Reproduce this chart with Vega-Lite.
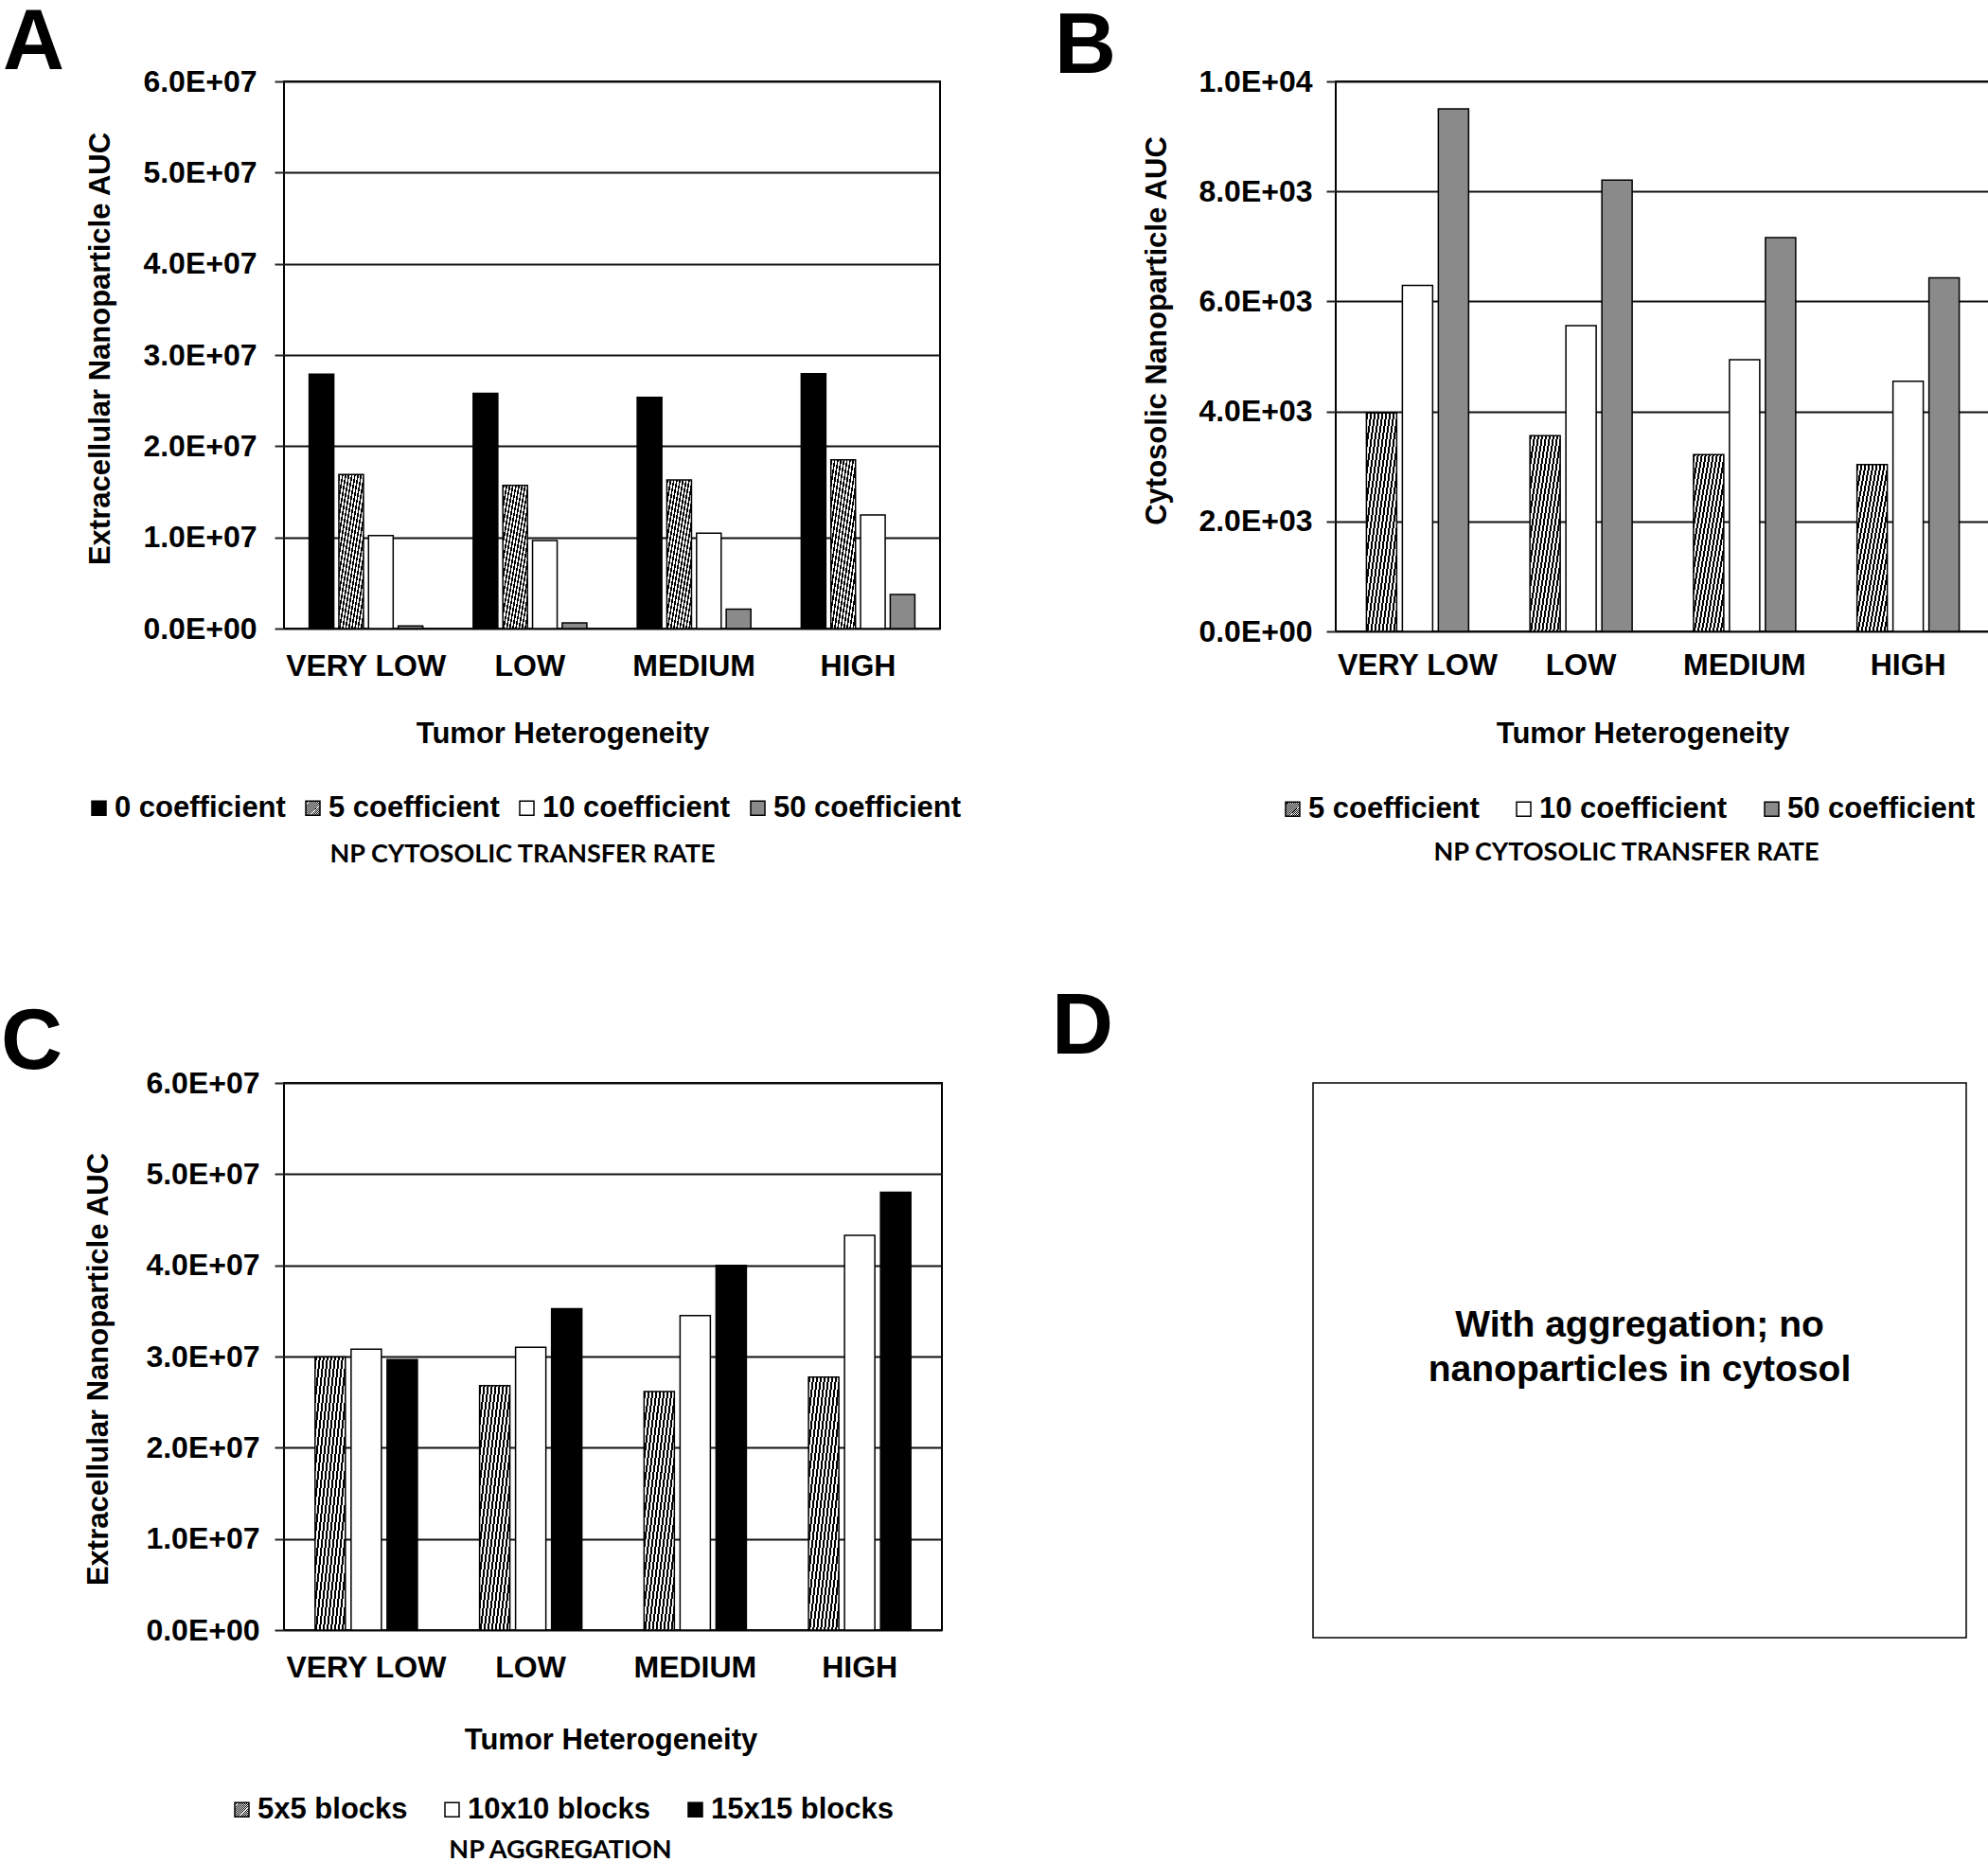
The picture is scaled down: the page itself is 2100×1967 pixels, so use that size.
{
  "$schema": "https://vega.github.io/schema/vega-lite/v6.json",
  "padding": 0,
  "background": "white",
  "params": [
    {"name": "hatch", "expr": "{gradient:'linear',x1:0,y1:0,x2:1,y2:1,stops:[{offset:0,color:'#000'},{offset:0.03125,color:'#000'},{offset:0.03125,color:'#fff'},{offset:0.0625,color:'#fff'},{offset:0.0625,color:'#000'},{offset:0.09375,color:'#000'},{offset:0.09375,color:'#fff'},{offset:0.125,color:'#fff'},{offset:0.125,color:'#000'},{offset:0.15625,color:'#000'},{offset:0.15625,color:'#fff'},{offset:0.1875,color:'#fff'},{offset:0.1875,color:'#000'},{offset:0.21875,color:'#000'},{offset:0.21875,color:'#fff'},{offset:0.25,color:'#fff'},{offset:0.25,color:'#000'},{offset:0.28125,color:'#000'},{offset:0.28125,color:'#fff'},{offset:0.3125,color:'#fff'},{offset:0.3125,color:'#000'},{offset:0.34375,color:'#000'},{offset:0.34375,color:'#fff'},{offset:0.375,color:'#fff'},{offset:0.375,color:'#000'},{offset:0.40625,color:'#000'},{offset:0.40625,color:'#fff'},{offset:0.4375,color:'#fff'},{offset:0.4375,color:'#000'},{offset:0.46875,color:'#000'},{offset:0.46875,color:'#fff'},{offset:0.5,color:'#fff'},{offset:0.5,color:'#000'},{offset:0.53125,color:'#000'},{offset:0.53125,color:'#fff'},{offset:0.5625,color:'#fff'},{offset:0.5625,color:'#000'},{offset:0.59375,color:'#000'},{offset:0.59375,color:'#fff'},{offset:0.625,color:'#fff'},{offset:0.625,color:'#000'},{offset:0.65625,color:'#000'},{offset:0.65625,color:'#fff'},{offset:0.6875,color:'#fff'},{offset:0.6875,color:'#000'},{offset:0.71875,color:'#000'},{offset:0.71875,color:'#fff'},{offset:0.75,color:'#fff'},{offset:0.75,color:'#000'},{offset:0.78125,color:'#000'},{offset:0.78125,color:'#fff'},{offset:0.8125,color:'#fff'},{offset:0.8125,color:'#000'},{offset:0.84375,color:'#000'},{offset:0.84375,color:'#fff'},{offset:0.875,color:'#fff'},{offset:0.875,color:'#000'},{offset:0.90625,color:'#000'},{offset:0.90625,color:'#fff'},{offset:0.9375,color:'#fff'},{offset:0.9375,color:'#000'},{offset:0.96875,color:'#000'},{offset:0.96875,color:'#fff'},{offset:1,color:'#fff'}]}"}
  ],
  "datasets": {
    "panelA": [
      {"heterogeneity": "VERY LOW", "rate": "0 coefficient", "auc": 27900000},
      {"heterogeneity": "VERY LOW", "rate": "5 coefficient", "auc": 16900000},
      {"heterogeneity": "VERY LOW", "rate": "10 coefficient", "auc": 10200000},
      {"heterogeneity": "VERY LOW", "rate": "50 coefficient", "auc": 280000},
      {"heterogeneity": "LOW", "rate": "0 coefficient", "auc": 25800000},
      {"heterogeneity": "LOW", "rate": "5 coefficient", "auc": 15700000},
      {"heterogeneity": "LOW", "rate": "10 coefficient", "auc": 9650000},
      {"heterogeneity": "LOW", "rate": "50 coefficient", "auc": 620000},
      {"heterogeneity": "MEDIUM", "rate": "0 coefficient", "auc": 25350000},
      {"heterogeneity": "MEDIUM", "rate": "5 coefficient", "auc": 16300000},
      {"heterogeneity": "MEDIUM", "rate": "10 coefficient", "auc": 10450000},
      {"heterogeneity": "MEDIUM", "rate": "50 coefficient", "auc": 2130000},
      {"heterogeneity": "HIGH", "rate": "0 coefficient", "auc": 27950000},
      {"heterogeneity": "HIGH", "rate": "5 coefficient", "auc": 18500000},
      {"heterogeneity": "HIGH", "rate": "10 coefficient", "auc": 12450000},
      {"heterogeneity": "HIGH", "rate": "50 coefficient", "auc": 3730000}
    ],
    "panelB": [
      {"heterogeneity": "VERY LOW", "rate": "5 coefficient", "auc": 3970},
      {"heterogeneity": "VERY LOW", "rate": "10 coefficient", "auc": 6290},
      {"heterogeneity": "VERY LOW", "rate": "50 coefficient", "auc": 9500},
      {"heterogeneity": "LOW", "rate": "5 coefficient", "auc": 3560},
      {"heterogeneity": "LOW", "rate": "10 coefficient", "auc": 5560},
      {"heterogeneity": "LOW", "rate": "50 coefficient", "auc": 8205},
      {"heterogeneity": "MEDIUM", "rate": "5 coefficient", "auc": 3215},
      {"heterogeneity": "MEDIUM", "rate": "10 coefficient", "auc": 4940},
      {"heterogeneity": "MEDIUM", "rate": "50 coefficient", "auc": 7160},
      {"heterogeneity": "HIGH", "rate": "5 coefficient", "auc": 3035},
      {"heterogeneity": "HIGH", "rate": "10 coefficient", "auc": 4550},
      {"heterogeneity": "HIGH", "rate": "50 coefficient", "auc": 6430}
    ],
    "panelC": [
      {"heterogeneity": "VERY LOW", "aggregation": "5x5 blocks", "auc": 29950000},
      {"heterogeneity": "VERY LOW", "aggregation": "10x10 blocks", "auc": 30800000},
      {"heterogeneity": "VERY LOW", "aggregation": "15x15 blocks", "auc": 29650000},
      {"heterogeneity": "LOW", "aggregation": "5x5 blocks", "auc": 26800000},
      {"heterogeneity": "LOW", "aggregation": "10x10 blocks", "auc": 31000000},
      {"heterogeneity": "LOW", "aggregation": "15x15 blocks", "auc": 35250000},
      {"heterogeneity": "MEDIUM", "aggregation": "5x5 blocks", "auc": 26150000},
      {"heterogeneity": "MEDIUM", "aggregation": "10x10 blocks", "auc": 34500000},
      {"heterogeneity": "MEDIUM", "aggregation": "15x15 blocks", "auc": 40000000},
      {"heterogeneity": "HIGH", "aggregation": "5x5 blocks", "auc": 27750000},
      {"heterogeneity": "HIGH", "aggregation": "10x10 blocks", "auc": 43300000},
      {"heterogeneity": "HIGH", "aggregation": "15x15 blocks", "auc": 48000000}
    ],
    "panelD": [
      {"note": "With aggregation; no\nnanoparticles in cytosol"}
    ]
  },
  "vconcat": [
    {
      "hconcat": [
        {
          "width": 693,
          "height": 578,
          "data": {"name": "panelA"},
          "title": {"text": "A", "dx": -297, "offset": -22},
          "mark": {"type": "bar", "stroke": "black", "strokeWidth": 1.5},
          "encoding": {
            "x": {"field": "heterogeneity", "type": "nominal", "sort": ["VERY LOW", "LOW", "MEDIUM", "HIGH"], "scale": {"paddingInner": 0.307, "paddingOuter": 0.1535}, "axis": {"title": "Tumor Heterogeneity", "titleX": 294, "titleY": 120}},
            "xOffset": {"field": "rate", "type": "nominal", "sort": ["0 coefficient", "5 coefficient", "10 coefficient", "50 coefficient"], "scale": {"paddingInner": 0.17, "paddingOuter": 0}},
            "y": {"field": "auc", "type": "quantitative", "scale": {"domain": [0, 60000000], "nice": false}, "axis": {"title": "Extracellular Nanoparticle AUC", "values": [0, 10000000, 20000000, 30000000, 40000000, 50000000, 60000000], "labelExpr": "replace(format(datum.value, '.1e'), 'e+', 'E+0')", "labelPadding": 19, "titleX": -185, "titleY": 282}},
            "fill": {"field": "rate", "type": "nominal", "scale": {"domain": ["0 coefficient", "5 coefficient", "10 coefficient", "50 coefficient"], "range": ["#000000", {"expr": "hatch"}, "#ffffff", "#8a8a8a"]}, "legend": {"title": "NP CYTOSOLIC TRANSFER RATE", "legendX": -211, "legendY": 752, "columnPadding": 13, "titlePadding": 21}}
          }
        },
        {
          "width": 691,
          "height": 581,
          "data": {"name": "panelB"},
          "title": {"text": "B", "dx": -297, "offset": -26},
          "mark": {"type": "bar", "stroke": "black", "strokeWidth": 1.5},
          "encoding": {
            "x": {"field": "heterogeneity", "type": "nominal", "sort": ["VERY LOW", "LOW", "MEDIUM", "HIGH"], "scale": {"paddingInner": 0.375, "paddingOuter": 0.1875}, "axis": {"title": "Tumor Heterogeneity", "titleX": 324, "titleY": 117, "labelPadding": 20}},
            "xOffset": {"field": "rate", "type": "nominal", "sort": ["5 coefficient", "10 coefficient", "50 coefficient"], "scale": {"paddingInner": 0.158, "paddingOuter": 0}},
            "y": {"field": "auc", "type": "quantitative", "scale": {"domain": [0, 10000], "nice": false}, "axis": {"title": "Cytosolic Nanoparticle AUC", "values": [0, 2000, 4000, 6000, 8000, 10000], "labelExpr": "replace(format(datum.value, '.1e'), 'e+', 'E+0')", "labelPadding": 15, "titleX": -180, "titleY": 263}},
            "fill": {"field": "rate", "type": "nominal", "scale": {"domain": ["5 coefficient", "10 coefficient", "50 coefficient"], "range": [{"expr": "hatch"}, "#ffffff", "#8a8a8a"]}, "legend": {"title": "NP CYTOSOLIC TRANSFER RATE", "legendX": -61, "legendY": 753, "columnPadding": 31}}
          }
        }
      ],
      "spacing": 96,
      "resolve": {"scale": {"x": "independent", "y": "independent", "xOffset": "independent", "fill": "independent"}, "axis": {"x": "independent", "y": "independent"}, "legend": {"fill": "independent"}}
    },
    {
      "hconcat": [
        {
          "width": 695,
          "height": 578,
          "data": {"name": "panelC"},
          "title": {"text": "C", "dx": -299, "offset": -20},
          "mark": {"type": "bar", "stroke": "black", "strokeWidth": 1.5},
          "encoding": {
            "x": {"field": "heterogeneity", "type": "nominal", "sort": ["VERY LOW", "LOW", "MEDIUM", "HIGH"], "scale": {"paddingInner": 0.378, "paddingOuter": 0.189}, "axis": {"title": "Tumor Heterogeneity", "titleX": 345, "titleY": 125}},
            "xOffset": {"field": "aggregation", "type": "nominal", "sort": ["5x5 blocks", "10x10 blocks", "15x15 blocks"], "scale": {"paddingInner": 0.158, "paddingOuter": 0}},
            "y": {"field": "auc", "type": "quantitative", "scale": {"domain": [0, 60000000], "nice": false}, "axis": {"title": "Extracellular Nanoparticle AUC", "values": [0, 10000000, 20000000, 30000000, 40000000, 50000000, 60000000], "labelExpr": "replace(format(datum.value, '.1e'), 'e+', 'E+0')", "labelPadding": 16, "titleX": -187, "titleY": 302}},
            "fill": {"field": "aggregation", "type": "nominal", "scale": {"domain": ["5x5 blocks", "10x10 blocks", "15x15 blocks"], "range": [{"expr": "hatch"}, "#ffffff", "#000000"]}, "legend": {"title": "NP AGGREGATION", "legendX": -60, "legendY": 752, "columnPadding": 31, "titlePadding": 15}}
          }
        },
        {
          "width": 690,
          "height": 586,
          "data": {"name": "panelD"},
          "title": {"text": "D", "dx": -276, "offset": 12},
          "view": {"stroke": "black", "strokeWidth": 1.5},
          "mark": {"type": "text", "font": "Liberation Sans", "fontWeight": "bold", "fontSize": 39, "lineHeight": 47, "lineBreak": "\n", "align": "center", "baseline": "middle", "dy": -37, "color": "black"},
          "encoding": {
            "text": {"field": "note", "type": "nominal"}
          }
        }
      ],
      "spacing": 114,
      "resolve": {"scale": {"x": "independent", "y": "independent", "xOffset": "independent", "fill": "independent"}, "axis": {"x": "independent", "y": "independent"}, "legend": {"fill": "independent"}}
    }
  ],
  "spacing": 123,
  "resolve": {"scale": {"x": "independent", "y": "independent", "xOffset": "independent", "fill": "independent"}, "axis": {"x": "independent", "y": "independent"}, "legend": {"fill": "independent"}},
  "config": {
    "view": {"stroke": "black", "strokeWidth": 2},
    "font": "Liberation Sans",
    "title": {"font": "Liberation Sans", "fontSize": 90, "fontWeight": "bold", "anchor": "start", "frame": "group", "baseline": "alphabetic", "color": "black"},
    "axis": {"labelFont": "Liberation Sans", "labelFontWeight": "bold", "labelFontSize": 32, "labelColor": "black", "labelLimit": 400, "titleFont": "Liberation Sans", "titleFontWeight": "bold", "titleFontSize": 31, "titleColor": "black", "titleLimit": 1000},
    "axisX": {"ticks": false, "tickSize": 0, "domain": false, "grid": false, "labelAngle": 0, "labelPadding": 24, "titleBaseline": "alphabetic", "titleAlign": "center"},
    "axisY": {"domain": false, "grid": true, "gridColor": "#111111", "gridWidth": 2, "ticks": true, "tickColor": "#222222", "tickWidth": 2, "tickSize": 10, "titleBaseline": "alphabetic", "titleAlign": "center", "titleAngle": -90},
    "legend": {"orient": "none", "direction": "horizontal", "padding": 0, "labelFont": "Liberation Sans", "labelFontWeight": "bold", "labelFontSize": 31, "labelColor": "black", "labelLimit": 500, "labelOffset": 1, "symbolType": "square", "symbolSize": 225, "symbolStrokeColor": "black", "symbolStrokeWidth": 1.5, "titleFont": "Lato", "titleFontWeight": "bold", "titleFontSize": 27, "titleColor": "black", "titleOrient": "bottom", "titleAnchor": "middle", "titlePadding": 18, "titleLimit": 1000}
  }
}
